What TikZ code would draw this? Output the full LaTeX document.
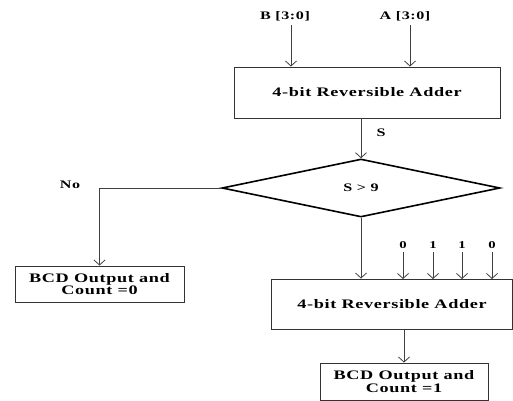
\documentclass[tikz,border=0pt]{standalone}
\usepackage{fontspec}
\setmainfont{Liberation Serif}[FakeStretch=1.4,LetterSpace=5]
\usetikzlibrary{arrows.meta,shapes.geometric}
\begin{document}
\begin{tikzpicture}[x=1pt,y=-1pt,
  line/.style={draw=black!75,line width=0.8pt},
  arr/.style={line,-{Straight Barb[length=5pt,width=11pt,line width=0.8pt]}},
  box/.style={draw=black!80,line width=0.9pt,rectangle,inner sep=0pt,align=center,font=\fontsize{13}{12.5}\selectfont\bfseries},
  lbl/.style={font=\fontsize{11.5}{12}\selectfont\bfseries,inner sep=0pt},
  bit/.style={font=\fontsize{10.5}{11}\selectfont\bfseries,inner sep=0pt}]
\useasboundingbox (0,0) rectangle (513,400);
% top adder
\node[box,minimum width=266pt,minimum height=51pt] (add1) at (367,92.5) {4-bit Reversible Adder};
\node[lbl] (lb) at (285,16) {B [3:0]};
\node[lbl] (la) at (405,16) {A [3:0]};
\coordinate (b0) at (291,25);
\coordinate (a0) at (410,25);
\draw[arr] (b0) -- (b0 |- add1.north);
\draw[arr] (a0) -- (a0 |- add1.north);
% decision
\node[diamond,draw=black,line width=1.6pt,minimum width=278pt,minimum height=58pt,inner sep=0pt,
  font=\fontsize{11.5}{12}\selectfont\bfseries] (dec) at (361,188) {S > 9};
\draw[arr] (dec.north |- add1.south) -- (dec.north);
\node[lbl] (s) at (381,133) {S};
% no branch
\node[box,minimum width=169pt,minimum height=36pt] (out0) at (99.5,284) {BCD Output and\\Count =0};
\node[lbl] (no) at (70,185) {No};
\draw[arr] (dec.west) -| (out0.north);
% second adder
\node[box,minimum width=241pt,minimum height=50pt] (add2) at (392,304) {4-bit Reversible Adder};
\draw[arr] (dec.south) -- (dec.south |- add2.north);
\foreach \x/\v/\n in {403/0/c0,433/1/c1,462/1/c2,492/0/c3}{
  \node[bit] (\n) at (\x,245) {\v};
  \draw[arr] (\n.south) ++(0,3) -- (\x,279);
}
% final output
\node[box,minimum width=168pt,minimum height=37pt] (out1) at (404,381.5) {BCD Output and\\Count =1};
\draw[arr] (out1.north |- add2.south) -- (out1.north);
\end{tikzpicture}
\end{document}
